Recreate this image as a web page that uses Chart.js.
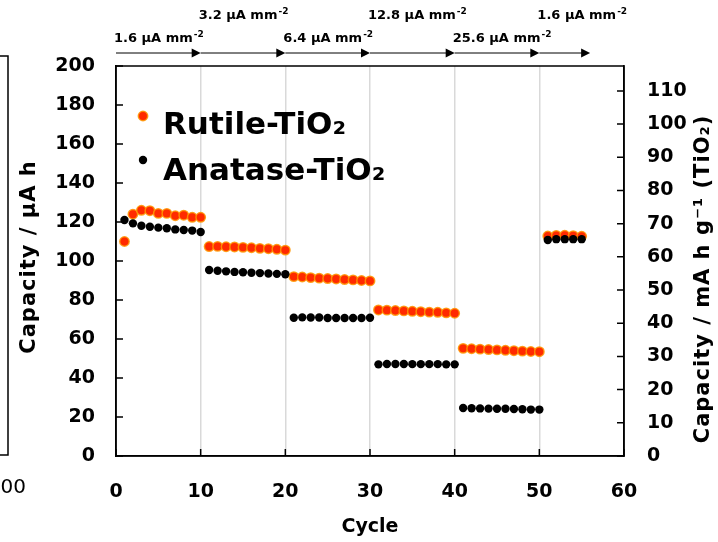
<!DOCTYPE html>
<html>
<head>
<meta charset="utf-8">
<script src="https://cdn.jsdelivr.net/npm/chart.js@4.4.0/dist/chart.umd.min.js"></script>
<style>
  body { margin: 0; background: #fff; }
  #wrap { width: 718px; height: 542px; }
</style>
</head>
<body>
<div id="wrap"><canvas id="myChart" width="718" height="542"></canvas></div>
<script>
let cycles = [1, 2, 3, 4, 5, 6, 7, 8, 9, 10,
    11, 12, 13, 14, 15, 16, 17, 18, 19, 20,
    21, 22, 23, 24, 25, 26, 27, 28, 29, 30,
    31, 32, 33, 34, 35, 36, 37, 38, 39, 40,
    41, 42, 43, 44, 45, 46, 47, 48, 49, 50,
    51, 52, 53, 54, 55];
let rutile = [110, 124, 126, 125.8, 124.4, 124.4, 123.2, 123.5, 122.4, 122.4,
    107.4, 107.5, 107.3, 107.2, 107, 106.8, 106.5, 106.3, 106, 105.6,
    92, 91.8, 91.5, 91.2, 91, 90.8, 90.5, 90.3, 90, 89.8,
    74.9, 74.8, 74.6, 74.4, 74.2, 74, 73.8, 73.7, 73.4, 73.2,
    55.2, 55, 54.8, 54.6, 54.4, 54.2, 54, 53.8, 53.6, 53.5,
    112.8, 113.1, 113.2, 113, 112.7];
let anatase = [121, 119.3, 118.1, 117.6, 117.1, 116.8, 116.2, 115.9, 115.6, 114.9,
    95.4, 95, 94.7, 94.4, 94.2, 94, 93.8, 93.6, 93.4, 93.2,
    70.9, 71.1, 71, 71, 70.8, 70.8, 70.8, 70.8, 70.8, 70.9,
    47, 47.2, 47.2, 47.2, 47.1, 47.1, 47.1, 47.1, 47, 47,
    24.6, 24.5, 24.4, 24.3, 24.2, 24.2, 24.1, 24, 23.8, 23.8,
    110.8, 111.2, 111.2, 111.2, 111.2];

// current density steps shown above the plot
let rateLabels = ['1.6', '3.2', '6.4', '12.8', '25.6', '1.6'];
let rateStart = [0, 10, 20, 30, 40, 50];
let rateEnd = [10, 20, 30, 40, 50, 56];
let rateRow = [1, 0, 1, 0, 1, 0];

const FONT = '"DejaVu Sans", Verdana, sans-serif';

function toPoints(ys) {
    let pts = [];
    for (let i = 0; i < cycles.length; i++) {
        pts.push({ x: cycles[i], y: ys[i] });
    }
    return pts;
}

const extras = {
    id: 'extras',
    afterDraw(chart) {
        const ctx = chart.ctx;
        const a = chart.chartArea;
        const sx = chart.scales.x;
        const sy = chart.scales.y;
        const sy2 = chart.scales.y2;
        ctx.save();

        // box
        ctx.strokeStyle = '#000';
        ctx.lineWidth = 1.5;
        ctx.strokeRect(a.left, a.top, a.right - a.left, a.bottom - a.top);

        // inner ticks
        ctx.beginPath();
        sx.ticks.forEach(t => {
            let px = sx.getPixelForValue(t.value);
            ctx.moveTo(px, a.bottom);
            ctx.lineTo(px, a.bottom - 7);
        });
        sy.ticks.forEach(t => {
            let py = sy.getPixelForValue(t.value);
            ctx.moveTo(a.left, py);
            ctx.lineTo(a.left + 7, py);
        });
        sy2.ticks.forEach(t => {
            let py = sy2.getPixelForValue(t.value);
            ctx.moveTo(a.right, py);
            ctx.lineTo(a.right - 7, py);
        });
        ctx.stroke();

        // x tick labels
        ctx.fillStyle = '#000';
        ctx.font = 'bold 19px ' + FONT;
        ctx.textAlign = 'center';
        ctx.textBaseline = 'middle';
        sx.ticks.forEach(t => {
            ctx.fillText(String(t.value), sx.getPixelForValue(t.value), 492);
        });

        // axis titles
        ctx.fillText('Cycle', (a.left + a.right) / 2, 527);

        ctx.font = 'bold 21px ' + FONT;
        ctx.letterSpacing = '1px';
        ctx.save();
        ctx.translate(30, 257);
        ctx.rotate(-Math.PI / 2);
        ctx.fillText('Capacity / \u03bcA h', 0, 0);
        ctx.restore();

        ctx.save();
        ctx.translate(704, 279);
        ctx.rotate(-Math.PI / 2);
        ctx.fillText('Capacity / mA h g\u207b\u00b9 (TiO\u2082)', 0, 0);
        ctx.restore();
        ctx.letterSpacing = '0px';

        // legend
        ctx.beginPath();
        ctx.arc(143, 116, 4.7, 0, Math.PI * 2);
        ctx.fillStyle = '#ff2a00';
        ctx.fill();
        ctx.strokeStyle = 'rgba(255,150,0,0.85)';
        ctx.lineWidth = 1.5;
        ctx.stroke();
        ctx.beginPath();
        ctx.arc(143, 160, 4.2, 0, Math.PI * 2);
        ctx.fillStyle = '#000';
        ctx.fill();
        ctx.font = 'bold 31px ' + FONT;
        ctx.textAlign = 'left';
        ctx.textBaseline = 'alphabetic';
        ctx.fillText('Rutile-TiO\u2082', 163, 134);
        ctx.fillText('Anatase-TiO\u2082', 163, 180);

        // current density arrows
        ctx.strokeStyle = '#000';
        ctx.lineWidth = 1;
        for (let i = 0; i < rateLabels.length; i++) {
            let x0 = sx.getPixelForValue(rateStart[i]);
            let x1 = sx.getPixelForValue(rateEnd[i]);
            ctx.beginPath();
            ctx.moveTo(x0, 53);
            ctx.lineTo(x1 - 8, 53);
            ctx.stroke();
            ctx.beginPath();
            ctx.moveTo(x1, 53);
            ctx.lineTo(x1 - 9, 48.5);
            ctx.lineTo(x1 - 9, 57.5);
            ctx.closePath();
            ctx.fill();
            let ty = rateRow[i] ? 42 : 19;
            let txt = rateLabels[i] + ' \u03bcA mm';
            ctx.font = 'bold 13px ' + FONT;
            ctx.fillText(txt, x0 - 2, ty);
            let w = ctx.measureText(txt).width;
            ctx.font = 'bold 9px ' + FONT;
            ctx.fillText('-2', x0 - 1 + w, ty - 5);
        }

        // edge of the neighbouring panel
        ctx.lineWidth = 1.5;
        ctx.beginPath();
        ctx.moveTo(0, 56);
        ctx.lineTo(8, 56);
        ctx.lineTo(8, 455);
        ctx.lineTo(0, 455);
        ctx.stroke();
        ctx.font = '20px ' + FONT;
        ctx.textAlign = 'right';
        ctx.fillText('200', 26, 493);

        ctx.restore();
    }
};

let myChart = new Chart(document.getElementById('myChart'), {
    type: 'scatter',
    data: {
        datasets: [{
                label: 'Rutile-TiO2',
                data: toPoints(rutile),
                backgroundColor: '#ff2a00',
                borderColor: 'rgba(255,150,0,0.85)',
                borderWidth: 1.5,
                pointRadius: 4.7,
                order: 2
            },
            {
                label: 'Anatase-TiO2',
                data: toPoints(anatase),
                backgroundColor: '#000',
                borderColor: '#000',
                borderWidth: 0,
                pointRadius: 4.2,
                order: 1
            }
        ]
    },
    options: {
        responsive: false,
        animation: false,
        layout: { padding: { top: 66, left: 0, right: 0, bottom: 0 } },
        plugins: {
            legend: { display: false },
            tooltip: { enabled: false }
        },
        scales: {
            x: {
                type: 'linear',
                min: 0,
                max: 60,
                ticks: {
                    stepSize: 10,
                    display: false
                },
                grid: { color: '#d9d9d9', lineWidth: 1.5, drawTicks: false },
                border: { color: '#000', width: 1.5 },
                afterFit: s => { s.height = 86; }
            },
            y: {
                position: 'left',
                min: 0,
                max: 200,
                ticks: {
                    stepSize: 20,
                    color: '#000',
                    font: { family: FONT, size: 19, weight: 'bold' },
                    padding: 21
                },
                grid: { display: false, drawTicks: false },
                border: { color: '#000', width: 1.5 },
                afterFit: s => { s.width = 116; }
            },
            y2: {
                position: 'right',
                min: 0,
                max: 117.5,
                ticks: {
                    stepSize: 10,
                    includeBounds: false,
                    color: '#000',
                    font: { family: FONT, size: 19, weight: 'bold' },
                    padding: 23
                },
                grid: { display: false, drawTicks: false },
                border: { color: '#000', width: 1.5 },
                afterFit: s => { s.width = 94; }
            }
        }
    },
    plugins: [extras]
});
</script>
</body>
</html>
